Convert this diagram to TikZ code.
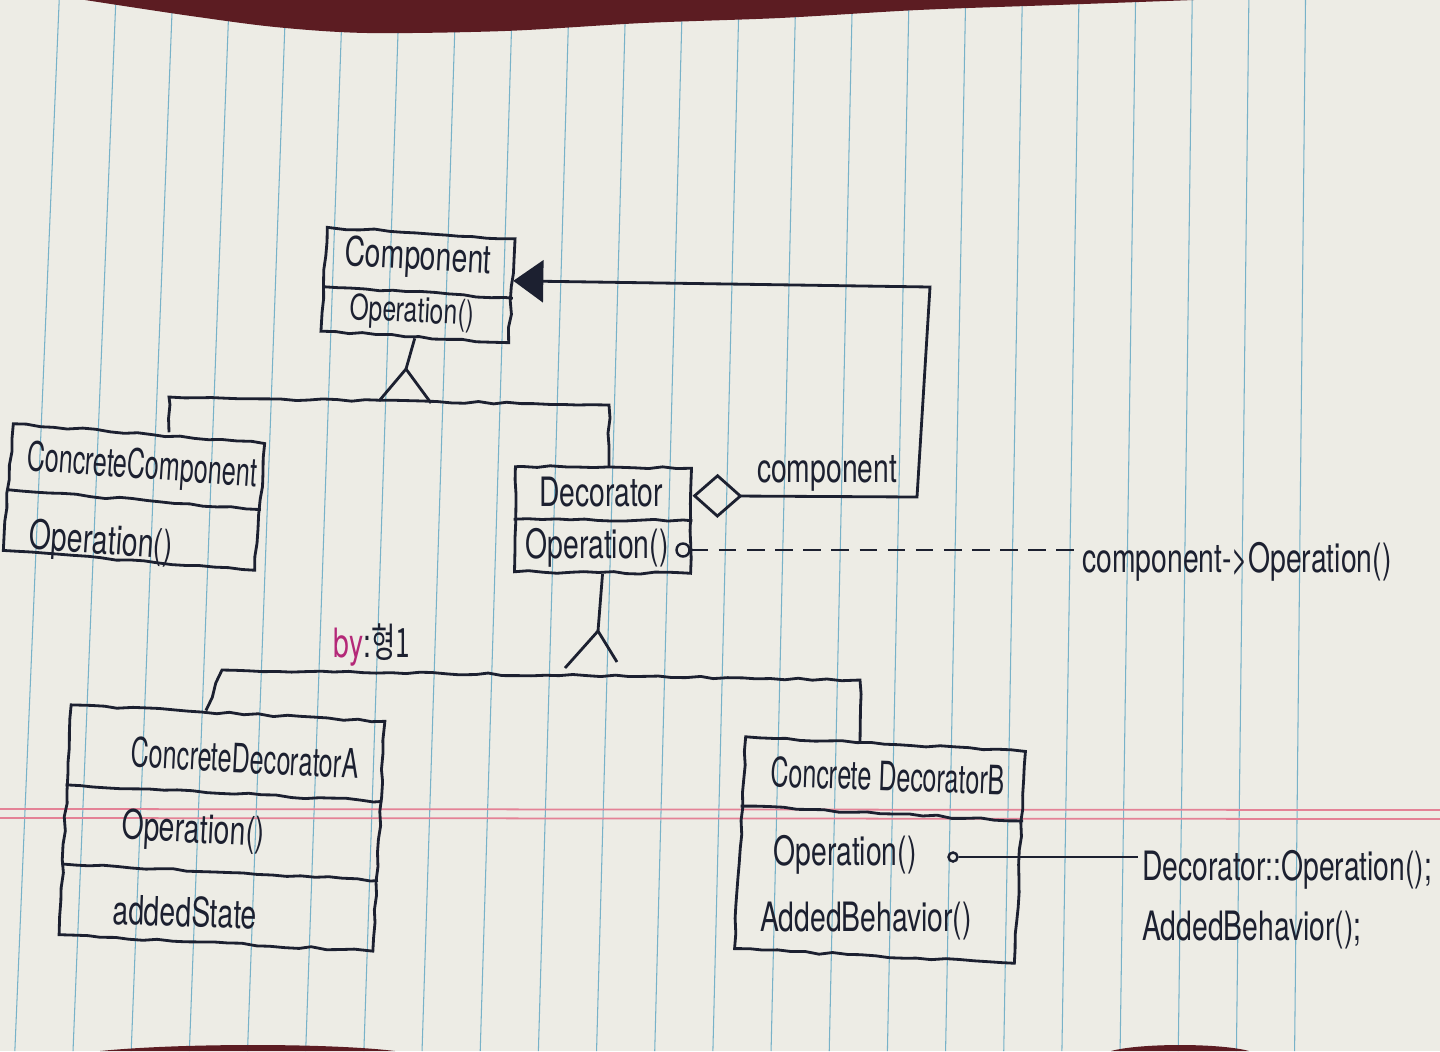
\documentclass[tikz,border=0pt]{standalone}
\usepackage{fontspec}
\setmainfont{TeX Gyre Heros}[FakeStretch=0.7]
\newfontfamily\handnarrow{TeX Gyre Heros}[FakeStretch=0.62]
\newfontfamily\krfont{Noto Sans CJK KR}[FakeStretch=0.65]
\usetikzlibrary{arrows.meta,calc,decorations.pathmorphing}
\definecolor{paper}{RGB}{237,236,229}
\definecolor{ruling}{RGB}{120,178,200}
\definecolor{margin}{RGB}{228,130,150}
\definecolor{desk}{RGB}{92,28,34}
\definecolor{ink}{RGB}{28,32,48}
\definecolor{pen}{RGB}{180,40,120}
\begin{document}
\begin{tikzpicture}[x=0.01cm,y=-0.01cm,
        umlbox/.style={draw=ink,line width=.8pt,inner sep=0pt},
        wire/.style={draw=ink,line width=.8pt},
        txt/.style={text=ink,font=\fontsize{11.5}{13}\selectfont,inner sep=1pt},
        narrow/.style={text=ink,font=\fontsize{11.5}{13}\handnarrow,inner sep=1pt},
        hand/.style={decorate,decoration={random steps,segment length=4pt,amplitude=.35pt}}]
        \useasboundingbox (0,0) rectangle (1440,1051); % page = photo
        % paper, rulings and desk
        \fill[paper] (0,0) rectangle (1440,1051);
        \foreach \k in {0,...,22}
            \draw[ruling,line width=.3pt] ({59.2+56.65*\k},0) -- ({14.85+58.17*\k},1051);
        \draw[margin,line width=.5pt] (0,809) -- (1440,810) (0,818) -- (1440,819);
        \fill[desk] plot[smooth] coordinates {(85,0) (184,15) (275,27) (367,33) (505,31) (643,23) (780,18) (918,10) (1056,5) (1194,0)} -- cycle;
        \fill[desk] (100,1051) .. controls (180,1043) and (330,1043) .. (395,1051) -- cycle;
        \fill[desk] (1111,1051) .. controls (1140,1043) and (1220,1043) .. (1249,1051) -- cycle;
        % classes
        \node[umlbox,hand,minimum width=1.88cm,minimum height=1.04cm,rotate=-3.5] (comp) at (418,285) {};
        \draw[wire,hand] ($(comp.north west)!.57!(comp.south west)$) -- ($(comp.north east)!.57!(comp.south east)$);
        \node[txt,rotate=-3] (compName) at (418,259) {Component};
        \node[txt,rotate=-3,font=\fontsize{10}{12}\selectfont] (compOp) at (412,313) {Operation()};

        \node[umlbox,hand,minimum width=2.52cm,minimum height=1.27cm,rotate=-4.5] (conc) at (134,497) {};
        \draw[wire,hand] ($(conc.north west)!.52!(conc.south west)$) -- ($(conc.north east)!.52!(conc.south east)$);
        \node[narrow,rotate=-4] (concName) at (142,468) {ConcreteComponent};
        \node[txt,rotate=-4] (concOp) at (101,543) {Operation()};

        \node[umlbox,hand,minimum width=1.76cm,minimum height=1.05cm,rotate=-.5] (deco) at (603,520) {};
        \draw[wire,hand] ($(deco.north west)!.5!(deco.south west)$) -- ($(deco.north east)!.5!(deco.south east)$);
        \node[txt] (decoName) at (601,492) {Decorator};
        \node[txt] (decoOp) at (597,548) {Operation()};
        \node[draw=ink,circle,line width=.7pt,inner sep=0pt,minimum size=.13cm] (dotD) at (683,550) {};

        \node[umlbox,hand,minimum width=3.14cm,minimum height=2.30cm,rotate=-3] (decoA) at (222,828) {};
        \draw[wire,hand] ($(decoA.north west)!.35!(decoA.south west)$) -- ($(decoA.north east)!.35!(decoA.south east)$);
        \draw[wire,hand] ($(decoA.north west)!.69!(decoA.south west)$) -- ($(decoA.north east)!.69!(decoA.south east)$);
        \node[narrow,rotate=-3] (decoAName) at (245,758) {ConcreteDecoratorA};
        \node[txt,rotate=-3] (decoAOp) at (193,832) {Operation()};
        \node[txt,rotate=-2] (decoAState) at (185,912) {addedState};

        \node[umlbox,hand,minimum width=2.80cm,minimum height=2.12cm,rotate=-3] (decoB) at (880,850) {};
        \draw[wire,hand] ($(decoB.north west)!.33!(decoB.south west)$) -- ($(decoB.north east)!.33!(decoB.south east)$);
        \node[narrow,rotate=-2] (decoBName) at (888,776) {Concrete DecoratorB};
        \node[txt] (decoBOp) at (845,855) {Operation()};
        \node[txt] (decoBAdd) at (866,921) {AddedBehavior()};
        \node[draw=ink,circle,line width=.7pt,inner sep=0pt,minimum size=.09cm] (dotB) at (953,857) {};

        % notes
        \node[txt,anchor=west] (noteD) at (1078,562) {component->Operation()};
        \node[txt,anchor=north west,align=left,font=\fontsize{11.5}{17}\selectfont] (noteB) at (1138,846) {Decorator::Operation();\\AddedBehavior();};
        \draw[wire,line width=.6pt,dash pattern=on 5pt off 3pt] (dotD) -- (dotD -| noteD.west);
        \draw[wire,line width=.6pt] (dotB) -- (dotB -| noteB.west);

        % inheritance
        \coordinate (apex1) at (406,369);
        \coordinate (leg1a) at (379,401);
        \coordinate (leg1b) at (431,403);
        \coordinate (busL) at (169,397);
        \coordinate (busR) at (609,405);
        \draw[wire] (comp.south) -- (apex1);
        \draw[wire] (leg1a) -- (apex1) -- (leg1b);
        \draw[wire,hand] (busL |- conc.north) -- (busL) -- (busR) -- (busR |- deco.north);

        \coordinate (apex2) at (598,631);
        \coordinate (leg2a) at (565,668);
        \coordinate (leg2b) at (617,662);
        \coordinate (bus2L) at (222,670);
        \coordinate (bus2R) at (860,680);
        \draw[wire] (deco.south) -- (apex2);
        \draw[wire] (leg2a) -- (apex2) -- (leg2b);
        \draw[wire,hand] ($(decoA.north west)!.43!(decoA.north east)$) -- (bus2L) -- (bus2R) -- (bus2R |- decoB.north);

        % aggregation back to Component
        \draw[wire,{Diamond[open,length=.5cm,width=.44cm]}-{Triangle[length=.3cm,width=.42cm]}] ([yshift=.25cm]deco.east) -- node[txt,above,pos=.6] (role) {component} (917,497) -- (930,287) -- ([yshift=.1cm]comp.east);

        \node[txt] (sign) at (372,645) {\textcolor{pen}{by}:\krfont 형1};
\end{tikzpicture}
\end{document}
